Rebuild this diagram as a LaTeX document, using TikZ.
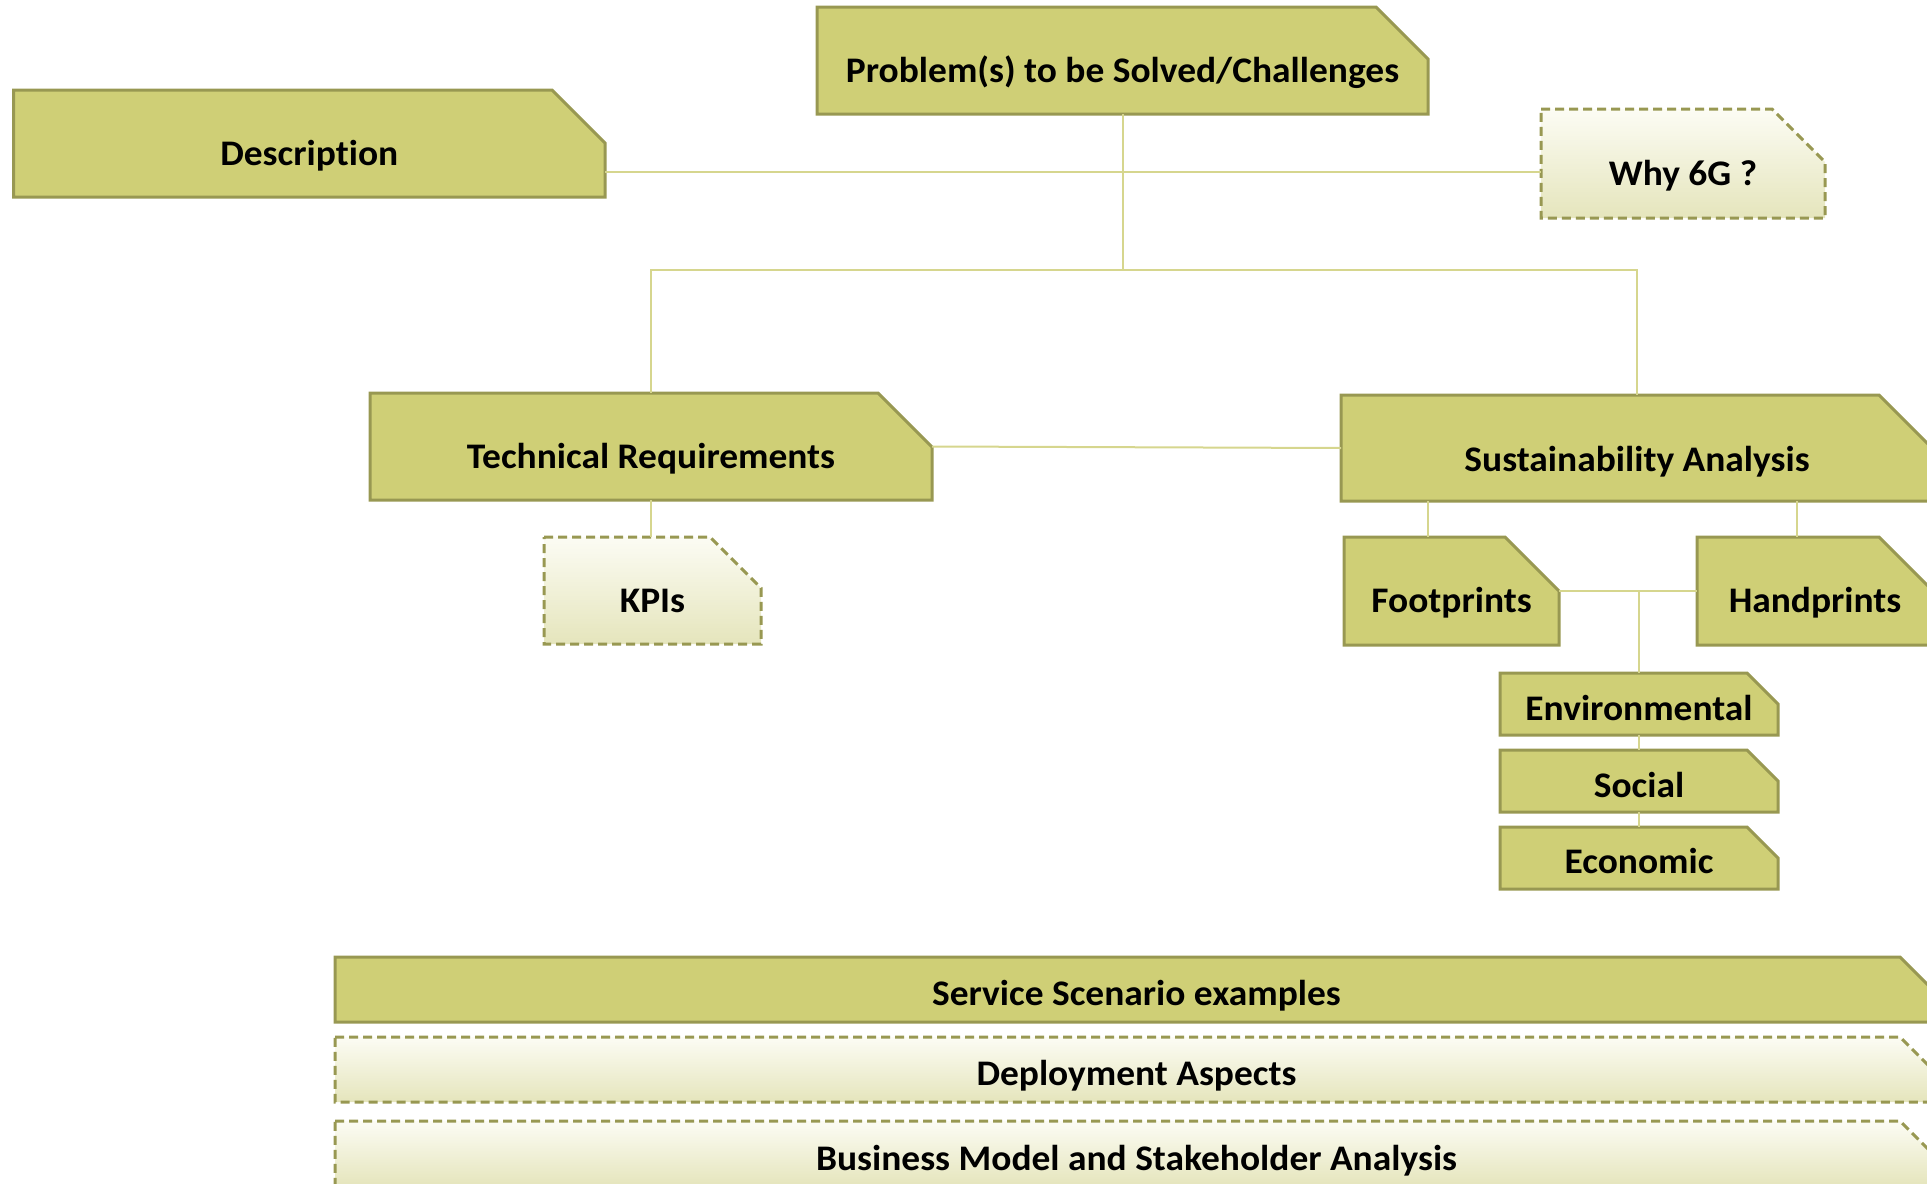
\documentclass[tikz,border=0pt]{standalone}
\usepackage{fontspec}
\setmainfont{Carlito}[Ligatures=NoCommon, FakeStretch=1.04]
\usetikzlibrary{calc}

\definecolor{tabfill}{RGB}{207,207,118}
\definecolor{tabedge}{RGB}{152,152,82}
\definecolor{linkcol}{RGB}{214,214,142}
\definecolor{softtop}{RGB}{252,252,244}
\definecolor{softbot}{RGB}{229,229,188}

\tikzset{
  solidtab/.style={draw=tabedge, line width=3pt, fill=tabfill},
  softtab/.style={draw=tabedge, line width=3pt, dash pattern=on 9pt off 5pt,
                  top color=softtop, bottom color=softbot},
  anchorbox/.style={rectangle, inner sep=0pt, outer sep=0pt, draw=none},
  boxtext/.style={anchor=base, inner sep=0pt, font=\fontsize{36}{43}\selectfont\bfseries},
  link/.style={draw=linkcol, line width=2pt},
}

% #1 outline style, #2 name, #3 left, #4 top, #5 right, #6 bottom,
% #7 size of the cut corner, #8 baseline height above the bottom, #9 label
\newcommand\tabbox[9]{%
  \draw[#1] (#3,#4) -- ({#5-#7},#4) -- (#5,{#4+#7}) -- (#5,#6) -- (#3,#6) -- cycle;
  \pgfmathsetmacro\tbw{#5-#3}\pgfmathsetmacro\tbh{#6-#4}%
  \node[anchorbox, minimum width=\tbw pt, minimum height=\tbh pt] (#2)
        at ({(#3+#5)/2},{(#4+#6)/2}) {};
  \node[boxtext] (#2-t) at ({(#3+#5)/2},{#6-#8}) {#9};
}

\begin{document}
\begin{tikzpicture}[x=1pt, y=-1pt]
\useasboundingbox (0,0) rectangle (1927,1183);
\clip (0,0) rectangle (1927,1183);

% top level
\tabbox{solidtab}{prob}{817}{7}{1428}{114}{52}{32}{Problem(s) to be Solved/Challenges}
\tabbox{solidtab}{desc}{13.5}{90}{605}{197}{53}{32}{Description}
\tabbox{softtab}{why}{1541}{109}{1825}{218}{53}{33}{Why 6G ?}

% second level
\tabbox{solidtab}{tr}{370}{393}{932}{500}{54}{32}{Technical Requirements}
\tabbox{solidtab}{sa}{1341}{395}{1933}{501}{54}{30}{Sustainability Analysis}
\tabbox{softtab}{kpi}{544}{537}{761}{644}{51}{32}{KPIs}
\tabbox{solidtab}{fp}{1344}{537}{1559}{645}{54}{33}{Footprints}
\tabbox{solidtab}{hp}{1697}{537}{1933}{645}{54}{33}{Handprints}

% dimensions of sustainability
\tabbox{solidtab}{env}{1500}{673}{1778}{735}{31}{15}{Environmental}
\tabbox{solidtab}{soc}{1500}{750}{1778}{812}{31}{15}{Social}
\tabbox{solidtab}{eco}{1500}{827}{1778}{889}{31}{16}{Economic}

% bottom bars
\tabbox{solidtab}{svc}{335}{957}{1938}{1022}{38}{17}{Service Scenario examples}
\tabbox{softtab}{dep}{335}{1037}{1938}{1102}{38}{17}{Deployment Aspects}
\tabbox{softtab}{bus}{335}{1121}{1938}{1186}{38}{16}{Business Model and Stakeholder Analysis}

% connectors
\coordinate (side) at (0,172);
\coordinate (hub) at (0,270);
\coordinate (fpdrop) at (1428,0);
\coordinate (hpdrop) at (1797,0);

\draw[link] (desc.east |- side) -- (why.west |- side);
\draw[link] (prob.south) -- (prob.south |- hub);
\draw[link] (tr.north) -- (tr.north |- hub) -| (sa.north);
\draw[link] (tr.east) -- (sa.west);
\draw[link] (tr.south) -- (tr.south |- kpi.north);
\draw[link] (fpdrop |- sa.south) -- (fpdrop |- fp.north);
\draw[link] (hpdrop |- sa.south) -- (hpdrop |- hp.north);
\draw[link] (fp.east) -- (hp.west);
\draw[link] (env.north |- fp.east) -- (env.north);
\draw[link] (env.south) -- (soc.north);
\draw[link] (soc.south) -- (eco.north);
\end{tikzpicture}
\end{document}
